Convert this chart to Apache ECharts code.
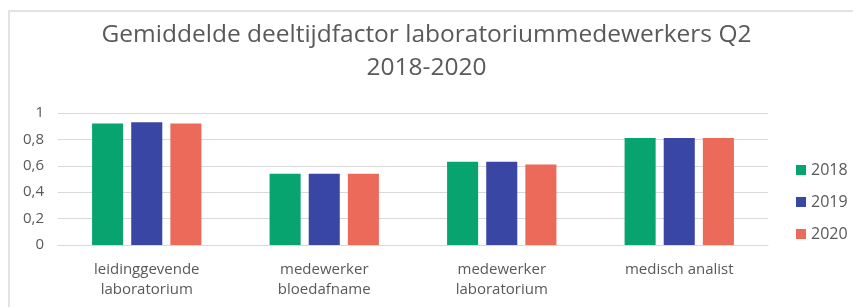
<!DOCTYPE html>
<html>
<head>
<meta charset="utf-8">
<script src="https://cdn.jsdelivr.net/npm/echarts@6/dist/echarts.min.js"></script>
<style>
    html, body { margin: 0; padding: 0; background: #fff; }
    .frame {
        position: absolute;
        left: 8px;
        top: 10px;
        right: 0;
        bottom: 0;
        border-left: 2px solid #e3e3e3;
        border-top: 2px solid #e3e3e3;
    }
    #chart { position: absolute; left: 0; top: 0; width: 853px; height: 307px; }
</style>
</head>
<body>
<div class="frame"></div>
<div id="chart"></div>
<script>
// categories and values
var categories = ['leidinggevende\nlaboratorium', 'medewerker\nbloedafname', 'medewerker\nlaboratorium', 'medisch analist']
var years = ['2018', '2019', '2020']
var values2018 = [0.92, 0.54, 0.63, 0.81]
var values2019 = [0.93, 0.54, 0.63, 0.81]
var values2020 = [0.92, 0.54, 0.61, 0.81]
var colors = ['#08a46f', '#3a46a4', '#ec6a5a']

var textColor = '#595959'
var font = 'Open Sans'

var myChart = echarts.init(document.getElementById('chart'))

function makeSeries(name, data, i) {
    return {
        type: 'bar',
        name: name,
        data: data,
        barWidth: '17.5%',
        barGap: '26%',
        itemStyle: { color: colors[i] }
    }
}

var options = {
    animation: false,
    title: {
        text: 'Gemiddelde deeltijdfactor laboratoriummedewerkers Q2\n2018-2020',
        left: 'center',
        top: 19,
        padding: 0,
        textStyle: {
            color: textColor,
            fontFamily: font,
            fontSize: 24.5,
            fontWeight: 'normal',
            lineHeight: 33
        }
    },
    legend: {
        orient: 'vertical',
        left: 796,
        top: 162,
        padding: 0,
        itemWidth: 10,
        itemHeight: 10,
        itemGap: 16,
        icon: 'rect',
        textStyle: {
            color: textColor,
            fontFamily: font,
            fontSize: 16
        },
        data: years
    },
    grid: {
        left: 58,
        right: 85,
        top: 113,
        bottom: 62
    },
    xAxis: {
        type: 'category',
        data: categories,
        axisTick: { show: false },
        axisLine: { lineStyle: { color: '#d9d9d9' } },
        axisLabel: {
            color: textColor,
            fontFamily: font,
            fontSize: 15,
            lineHeight: 20,
            margin: 15
        }
    },
    yAxis: {
        type: 'value',
        min: 0,
        max: 1,
        interval: 0.2,
        splitLine: { lineStyle: { color: '#d9d9d9' } },
        axisLabel: {
            color: textColor,
            fontFamily: font,
            fontSize: 15,
            margin: 14,
            formatter: function (v) {
                return String(Math.round(v * 10) / 10).replace('.', ',')
            }
        }
    },
    series: [
        makeSeries(years[0], values2018, 0),
        makeSeries(years[1], values2019, 1),
        makeSeries(years[2], values2020, 2)
    ]
}
myChart.setOption(options)
</script>
</body>
</html>
